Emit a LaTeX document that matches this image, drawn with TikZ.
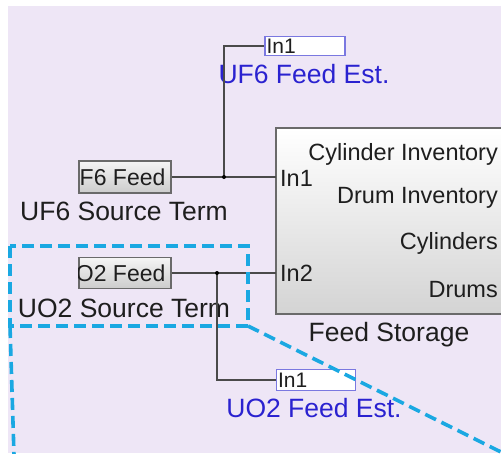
\documentclass[tikz,border=0pt]{standalone}
\usepackage{fontspec}
\setmainfont{Liberation Sans}
\definecolor{bgc}{HTML}{EEE6F6}
\definecolor{wirec}{HTML}{4A4A4A}
\definecolor{blkborder}{HTML}{6A6A6A}
\definecolor{estborder}{HTML}{7A78E0}
\definecolor{bluetxt}{HTML}{2A22D0}
\definecolor{zoomc}{HTML}{1AA8E2}
\definecolor{txtc}{HTML}{1E1E1E}
\begin{document}
\begin{tikzpicture}[x=1pt,y=-1pt,
  wire/.style={draw=wirec, line width=1.3pt},
  srcblk/.style={draw=blkborder, line width=1.2pt, top color=white!96!black, bottom color=black!20, inner sep=0pt},
  storeblk/.style={draw=blkborder, line width=1.2pt, top color=white, bottom color=black!17, inner sep=0pt},
  estblk/.style={draw=estborder, line width=1.2pt, fill=white, inner sep=0pt},
  blktext/.style={text=txtc, font=\fontsize{23}{25}\selectfont, inner sep=0pt},
  porttext/.style={text=txtc, font=\fontsize{23.5}{25}\selectfont, inner sep=0pt},
  label/.style={text=txtc, font=\fontsize{26.5}{29}\selectfont, inner sep=0pt},
  bluelabel/.style={text=bluetxt, font=\fontsize{26.5}{29}\selectfont, inner sep=0pt},
  esttext/.style={text=txtc, font=\fontsize{21}{23}\selectfont, inner sep=0pt},
  zoomline/.style={draw=zoomc, line width=3.6pt, dash pattern=on 12pt off 6pt},
  jdot/.style={circle, fill=black, inner sep=0pt, minimum size=4pt}
]
\useasboundingbox (0,0) rectangle (501,453);
\fill[bgc] (8,6) rectangle (501,453);

% Feed Storage subsystem
\node[storeblk, minimum width=228pt, minimum height=186pt] (fs) at (390,221) {};
\node[porttext, anchor=east] (p1) at (498,154) {Cylinder Inventory};
\node[porttext, anchor=east] (p2) at (498,198) {Drum Inventory};
\node[porttext, anchor=east] (p3) at (498,243) {Cylinders};
\node[porttext, anchor=east] (p4) at (498,290) {Drums};
\node[porttext, anchor=west] (pin1) at (280,178) {In1};
\node[porttext, anchor=west] (pin2) at (280,273) {In2};
\node[label] (fslab) at (389,335) {Feed Storage};
\coordinate (fsin1) at (276,177);
\coordinate (fsin2) at (276,273);

% UF6 source
\node[srcblk, minimum width=92pt, minimum height=32pt] (uf6src) at (125,177) {};
\begin{scope}
\clip (uf6src.south west) rectangle (uf6src.north east);
\node[blktext, anchor=east] (uf6txt) at ([xshift=-6pt]uf6src.east) {UF6 Feed};
\end{scope}
\node[label] (uf6lab) at (124,211) {UF6 Source Term};

% UO2 source
\node[srcblk, minimum width=92pt, minimum height=31pt] (uo2src) at (125,273) {};
\begin{scope}
\clip (uo2src.south west) rectangle (uo2src.north east);
\node[blktext, anchor=east] (uo2txt) at ([xshift=-6pt]uo2src.east) {UO2 Feed};
\end{scope}
\node[label] (uo2lab) at (124,308) {UO2 Source Term};

% Estimator outports
\node[estblk, minimum width=80pt, minimum height=19pt] (uf6est) at (305,46) {};
\node[esttext, anchor=west] (uf6esttxt) at ([xshift=2pt]uf6est.west) {In1};
\node[bluelabel] (uf6estlab) at (304,74) {UF6 Feed Est.};

\node[estblk, minimum width=79pt, minimum height=21pt] (uo2est) at (316,380) {};
\node[esttext, anchor=west] (uo2esttxt) at ([xshift=2pt]uo2est.west) {In1};
\node[bluelabel] (uo2estlab) at (314,408) {UO2 Feed Est.};

% wires
\coordinate (j1) at (224,177);
\coordinate (j2) at (217,273);
\draw[wire] (uf6src.east) -- (fsin1);
\draw[wire] (j1) |- (uf6est.west);
\node[jdot] (j1dot) at (j1) {};
\draw[wire] (uo2src.east) -- (fsin2);
\draw[wire] (j2) |- (uo2est.west);
\node[jdot] (j2dot) at (j2) {};

% zoom highlight
\coordinate (zbl) at (10,326);
\coordinate (zbr) at (248,326);
\coordinate (ztl) at (10,246);
\coordinate (zend1) at (503,453);
\coordinate (zend2) at (14,455);
\draw[zoomline] (ztl) rectangle (zbr);
\draw[zoomline] (zbr) -- (zend1);
\draw[zoomline] (zbl) -- (zend2);
\end{tikzpicture}
\end{document}
